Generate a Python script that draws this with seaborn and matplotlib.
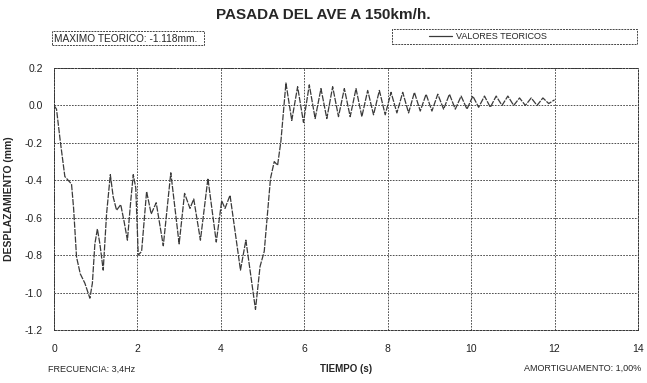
"""
Recreate the 'PASADA DEL AVE A 150km/h.' displacement-time chart.
"""

import matplotlib
matplotlib.use("Agg")
import matplotlib.pyplot as plt
from matplotlib.patches import Rectangle
import seaborn as sns
import pandas as pd

# Data: peaks, troughs and bends of the curve
TIME_S = [
    0.00, 0.06, 0.15, 0.26, 0.34, 0.42, 0.47, 0.54, 0.63, 0.74, 0.86, 0.92,
    0.98, 1.04, 1.10, 1.18, 1.26, 1.35, 1.42, 1.50, 1.60, 1.68, 1.76, 1.84,
    1.90, 1.96, 2.02, 2.10, 2.22, 2.33, 2.45, 2.62, 2.80, 3.00, 3.13, 3.26,
    3.35, 3.51, 3.69, 3.89, 4.02, 4.10, 4.22, 4.47, 4.60, 4.83, 4.94, 5.04,
    5.19, 5.28, 5.36, 5.44,
    5.56, 5.70, 5.84, 5.98, 6.12, 6.26, 6.40, 6.54, 6.68, 6.82, 6.96, 7.10,
    7.24, 7.38, 7.52, 7.66, 7.80, 7.94, 8.08, 8.22, 8.36, 8.50, 8.64, 8.78,
    8.92, 9.06, 9.20, 9.34, 9.48, 9.62, 9.76, 9.90, 10.04, 10.18, 10.32, 10.46,
    10.60, 10.74, 10.88, 11.02, 11.16, 11.30, 11.44, 11.58, 11.72, 11.86, 12.00,
]
DESPLAZAMIENTO_MM = [
    0.00, -0.02, -0.19, -0.38, -0.40, -0.42, -0.55, -0.81, -0.90, -0.95, -1.03, -0.95,
    -0.74, -0.66, -0.74, -0.88, -0.58, -0.37, -0.49, -0.56, -0.53, -0.62, -0.72, -0.51,
    -0.37, -0.44, -0.80, -0.78, -0.46, -0.58, -0.52, -0.75, -0.36, -0.74, -0.47, -0.55,
    -0.50, -0.72, -0.39, -0.73, -0.51, -0.55, -0.48, -0.88, -0.72, -1.09, -0.86, -0.78,
    -0.39, -0.30, -0.32, -0.19,
    0.12, -0.08, 0.10, -0.09, 0.11, -0.07, 0.09, -0.07, 0.10, -0.06, 0.09, -0.06,
    0.09, -0.06, 0.08, -0.05, 0.08, -0.05, 0.07, -0.04, 0.07, -0.04, 0.07, -0.03,
    0.06, -0.03, 0.06, -0.02, 0.06, -0.02, 0.05, -0.02, 0.05, -0.01, 0.05, -0.01,
    0.05, 0.00, 0.05, 0.00, 0.04, 0.00, 0.04, 0.00, 0.04, 0.01, 0.03,
]

X_TICKS = [0, 2, 4, 6, 8, 10, 12, 14]
Y_TICKS = [0.2, 0.0, -0.2, -0.4, -0.6, -0.8, -1.0, -1.2]

TITLE = "PASADA DEL AVE A 150km/h."
MAX_LABEL = "MAXIMO TEORICO: -1.118mm."
SERIES_LABEL = "VALORES TEORICOS"
FREQ_LABEL = "FRECUENCIA: 3,4Hz"
DAMP_LABEL = "AMORTIGUAMENTO: 1,00%"

W, H = 647, 383


def main():
    sns.set_style("white")
    plt.rcParams["font.family"] = ["Liberation Sans", "DejaVu Sans"]

    df = pd.DataFrame({"Tiempo": TIME_S, "Desplazamiento": DESPLAZAMIENTO_MM})

    fig = plt.figure(figsize=(W / 100, H / 100), dpi=100)
    ax = fig.add_axes([54 / W, 1 - 330 / H, (638 - 54) / W, (330 - 68) / H])

    sns.lineplot(data=df, x="Tiempo", y="Desplazamiento", ax=ax,
                 color="#3a3a3a", linewidth=0.9, label=SERIES_LABEL,
                 linestyle=(0, (5, 1)), legend=False)

    ax.set_xlim(0, 14)
    ax.set_ylim(-1.2, 0.2)
    ax.set_xticks(X_TICKS)
    ax.set_xticklabels([str(t) for t in X_TICKS])
    ax.set_yticks(Y_TICKS)
    ax.set_yticklabels([f"{v:.1f}" for v in Y_TICKS])
    ax.tick_params(axis="both", length=0, labelsize=7.5, colors="#222222")
    ax.tick_params(axis="x", pad=10)
    ax.tick_params(axis="y", pad=8)

    ax.grid(True, color="#333333", linestyle=(0, (2, 1.5)), linewidth=0.6)
    for spine in ax.spines.values():
        spine.set_visible(True)
        spine.set_color("#333333")
        spine.set_linestyle((0, (2, 1.5)))
        spine.set_linewidth(0.7)

    ax.set_xlabel("TIEMPO (s)", fontsize=7, weight="bold", labelpad=7)
    ax.set_ylabel("DESPLAZAMIENTO (mm)", fontsize=7.5, weight="bold", labelpad=8)

    fig.text(0.5, 1 - 15 / H, TITLE, ha="center", va="center",
             fontsize=11, weight="bold")

    # box with the theoretical maximum
    fig.patches.append(Rectangle((52 / W, 1 - 45 / H), (204 - 52) / W, 14 / H,
                                 transform=fig.transFigure, fill=False,
                                 edgecolor="#444444", linestyle=(0, (2, 1)),
                                 linewidth=0.7))
    fig.text(54 / W, 1 - 38.5 / H, MAX_LABEL, ha="left", va="center", fontsize=7.3)

    # legend box
    fig.patches.append(Rectangle((392 / W, 1 - 44 / H), (637 - 392) / W, 15 / H,
                                 transform=fig.transFigure, fill=False,
                                 edgecolor="#444444", linestyle=(0, (2, 1)),
                                 linewidth=0.7))
    leg = ax.legend(handles=ax.get_lines()[:1], labels=[SERIES_LABEL],
                    loc="center", bbox_to_anchor=(488 / W, 1 - 36.5 / H),
                    bbox_transform=fig.transFigure, frameon=False,
                    fontsize=6.5, handlelength=2.5, handletextpad=0.4)
    leg.get_lines()[0].set_linestyle("-")

    fig.text(48 / W, 1 - 369 / H, FREQ_LABEL, ha="left", va="center", fontsize=6.5)
    fig.text(641 / W, 1 - 368 / H, DAMP_LABEL, ha="right", va="center", fontsize=6.5)

    fig.savefig("out.png", dpi=100)
    plt.close(fig)


if __name__ == "__main__":
    main()
